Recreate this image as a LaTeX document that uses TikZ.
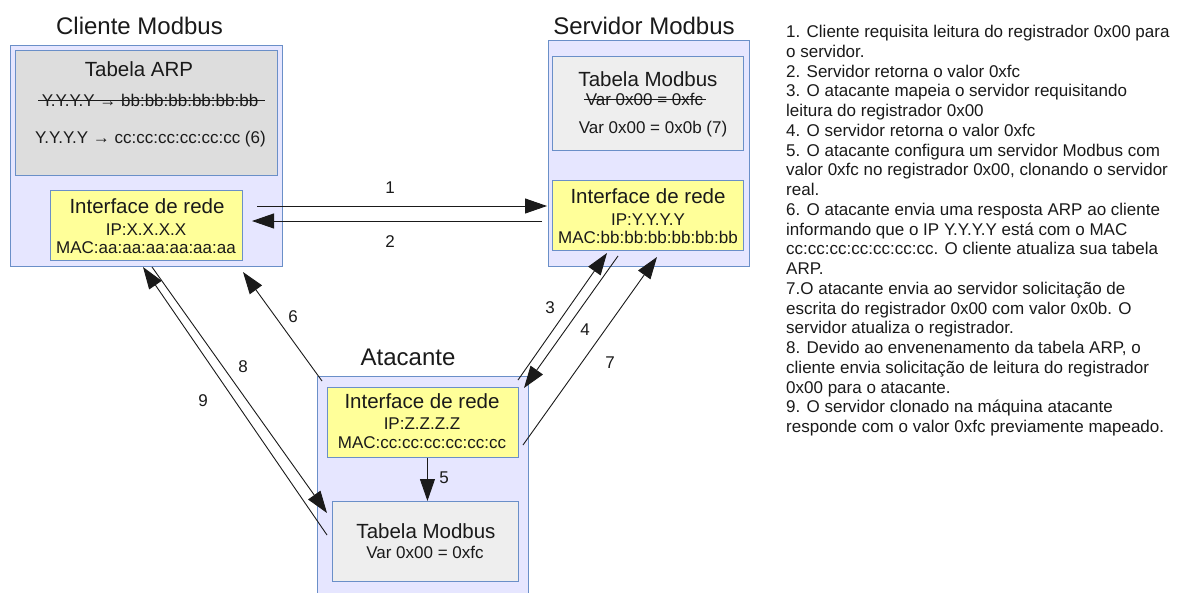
\documentclass[tikz,border=0pt]{standalone}
\usepackage{fontspec}
\setmainfont{Liberation Sans}
\usetikzlibrary{arrows.meta,calc}
\definecolor{hostfill}{HTML}{E6E6FF}
\definecolor{hostline}{HTML}{6A8FC8}
\definecolor{arpfill}{HTML}{DDDDDD}
\definecolor{tabfill}{HTML}{EEEEEE}
\definecolor{iffill}{HTML}{FFFF99}
\definecolor{ink}{HTML}{1A1A1A}
\tikzset{
  host/.style={draw=hostline, fill=hostfill, line width=0.9pt, anchor=north west, inner sep=0pt},
  arptab/.style={draw=hostline, fill=arpfill, line width=0.9pt, anchor=north west, inner sep=0pt},
  modtab/.style={draw=hostline, fill=tabfill, line width=0.9pt, anchor=north west, inner sep=0pt},
  netif/.style={draw=hostline, fill=iffill, line width=0.9pt, anchor=north west, inner sep=0pt},
  title/.style={font=\fontsize{24}{28}\selectfont, text=ink, anchor=base, inner sep=0pt},
  head/.style={font=\fontsize{20.5}{24}\selectfont, text=ink, anchor=base, inner sep=0pt},
  small/.style={font=\fontsize{17}{20}\selectfont, text=ink, anchor=base, inner sep=0pt},
  num/.style={font=\fontsize{17}{20}\selectfont, text=ink, anchor=base, inner sep=0pt},
  flow/.style={draw=ink, line width=0.9pt, -{Triangle[length=22pt,width=15pt]}},
  strike/.style={draw=ink, line width=0.9pt},
}
\begin{document}
\begin{tikzpicture}[x=1pt,y=-1pt]
\clip (0,0) rectangle (1190,592);
\fill[white] (0,0) rectangle (1190,592);

% ---- Cliente Modbus ----
\node[host, minimum width=272pt, minimum height=221pt] (cli) at (10,45) {};
\node[arptab, minimum width=262pt, minimum height=125pt] (arp) at (15,50) {};
\node[netif, minimum width=192pt, minimum height=70pt] (cliif) at (50,190) {};
\node[title] (clititle) at (139.5,34) {Cliente Modbus};
\node[head] (arphead) at (139,76) {Tabela ARP};
\node[small] (arpold) at (150,106) {Y.Y.Y.Y → bb:bb:bb:bb:bb:bb};
\coordinate (arpoldL) at (38,100);
\coordinate (arpoldR) at (265,100);
\draw[strike] (arpoldL) -- (arpoldR);
\node[small] (arpnew) at (150.5,143) {Y.Y.Y.Y → cc:cc:cc:cc:cc:cc (6)};
\node[head] (cliifhead) at (147,213) {Interface de rede};
\node[small] (cliip) at (146,235) {IP:X.X.X.X};
\node[small] (climac) at (146,253) {MAC:aa:aa:aa:aa:aa:aa};

% ---- Servidor Modbus ----
\node[host, minimum width=201pt, minimum height=226pt] (srv) at (548,40) {};
\node[modtab, minimum width=191pt, minimum height=94pt] (srvtab) at (552,56) {};
\node[netif, minimum width=191pt, minimum height=70pt] (srvif) at (552,180) {};
\node[title] (srvtitle) at (644,34) {Servidor Modbus};
\node[head] (srvtabhead) at (648,86) {Tabela Modbus};
\node[small] (srvold) at (644.5,105) {Var 0x00 = 0xfc};
\coordinate (srvoldL) at (584,99);
\coordinate (srvoldR) at (706,99);
\draw[strike] (srvoldL) -- (srvoldR);
\node[small] (srvnew) at (653,133) {Var 0x00 = 0x0b (7)};
\node[head] (srvifhead) at (648,203) {Interface de rede};
\node[small] (srvip) at (648,225) {IP:Y.Y.Y.Y};
\node[small] (srvmac) at (648,243) {MAC:bb:bb:bb:bb:bb:bb};

% ---- Atacante ----
\node[host, minimum width=211pt, minimum height=240pt] (atk) at (317,376) {};
\node[netif, minimum width=191pt, minimum height=70pt] (atkif) at (327,387) {};
\node[modtab, minimum width=186pt, minimum height=80pt] (atktab) at (332,501) {};
\node[title] (atktitle) at (408,365) {Atacante};
\node[head] (atkifhead) at (422,408) {Interface de rede};
\node[small] (atkip) at (422,429) {IP:Z.Z.Z.Z};
\node[small] (atkmac) at (422,448) {MAC:cc:cc:cc:cc:cc:cc};
\node[head] (atktabhead) at (426,538) {Tabela Modbus};
\node[small] (atkvar) at (425,558) {Var 0x00 = 0xfc};

% ---- connector end points ----
\coordinate (a1s) at (257,206);  \coordinate (a1e) at (547,206);
\coordinate (a2s) at (542,221);  \coordinate (a2e) at (252,221);
\coordinate (a3s) at (518,380);  \coordinate (a3e) at (607,253);
\coordinate (a4s) at (618,256);  \coordinate (a4e) at (524,388);
\coordinate (a7s) at (523,445);  \coordinate (a7e) at (657,257);
\coordinate (a6s) at (322,381);  \coordinate (a6e) at (243,272);
\coordinate (a8s) at (152,267);  \coordinate (a8e) at (327,513);
\coordinate (a9s) at (327,535);  \coordinate (a9e) at (143,267);

% ---- message flows ----
\draw[flow] (a1s) -- (a1e);
\draw[flow] (a2s) -- (a2e);
\draw[flow] (a3s) -- (a3e);
\draw[flow] (a4s) -- (a4e);
\draw[flow] (a7s) -- (a7e);
\draw[flow] (a6s) -- (a6e);
\draw[flow] (a8s) -- (a8e);
\draw[flow] (a9s) -- (a9e);
\draw[flow] ([xshift=2pt]atktab.north |- atkif.south) -- ([xshift=2pt]atktab.north);

\node[num] (n1) at (390,193) {1};
\node[num] (n2) at (390,247) {2};
\node[num] (n3) at (550,313) {3};
\node[num] (n4) at (585,335) {4};
\node[num] (n7) at (610,368) {7};
\node[num] (n6) at (293,322) {6};
\node[num] (n8) at (243,372) {8};
\node[num] (n9) at (203,406) {9};
\node[num] (n5) at (444,483) {5};

% ---- step list ----
\node[anchor=north west, inner sep=0pt, align=left, text=ink,
      font=\fontsize{17}{19.75}\selectfont] (steps) at (786,25) {%
1. Cliente requisita leitura do registrador 0x00 para\\
o servidor.\\
2. Servidor retorna o valor 0xfc\\
3. O atacante mapeia o servidor requisitando\\
leitura do registrador 0x00\\
4. O servidor retorna o valor 0xfc\\
5. O atacante configura um servidor Modbus com\\
valor 0xfc no registrador 0x00, clonando o servidor\\
real.\\
6. O atacante envia uma resposta ARP ao cliente\\
informando que o IP Y.Y.Y.Y está com o MAC\\
cc:cc:cc:cc:cc:cc:cc. O cliente atualiza sua tabela\\
ARP.\\
7.O atacante envia ao servidor solicitação de\\
escrita do registrador 0x00 com valor 0x0b. O\\
servidor atualiza o registrador.\\
8. Devido ao envenenamento da tabela ARP, o\\
cliente envia solicitação de leitura do registrador\\
0x00 para o atacante.\\
9. O servidor clonado na máquina atacante\\
responde com o valor 0xfc previamente mapeado.};
\end{tikzpicture}
\end{document}
